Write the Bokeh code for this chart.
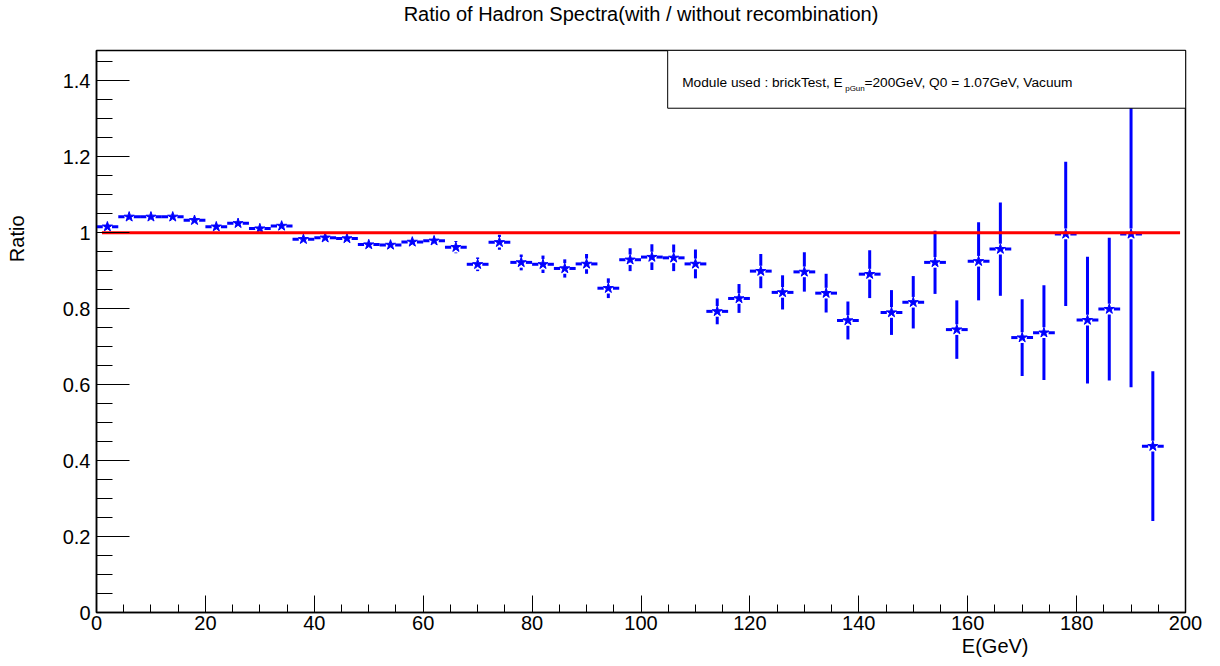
from bokeh.plotting import figure
from bokeh.models import (Range1d, SingleIntervalTicker, CustomJSTickFormatter, Label, Title)
from bokeh.embed import file_html
from bokeh.resources import INLINE

# ---- data ----
energy = [2, 6, 10, 14, 18, 22, 26, 30, 34, 38, 42, 46, 50, 54, 58, 62, 66, 70, 74, 78,
          82, 86, 90, 94, 98, 102, 106, 110, 114, 118, 122, 126, 130, 134, 138, 142, 146,
          150, 154, 158, 162, 166, 170, 174, 178, 182, 186, 190, 194]
bin_half_width = 2.0
ratio = [1.016, 1.042, 1.042, 1.042, 1.033, 1.016, 1.025, 1.011, 1.018, 0.983, 0.987,
         0.985, 0.969, 0.968, 0.976, 0.979, 0.962, 0.917, 0.975, 0.922, 0.917, 0.906,
         0.918, 0.854, 0.929, 0.936, 0.934, 0.918, 0.793, 0.827, 0.899, 0.843, 0.897,
         0.841, 0.769, 0.891, 0.790, 0.817, 0.922, 0.745, 0.925, 0.957, 0.724, 0.737,
         0.997, 0.770, 0.799, 0.997, 0.438]
ratio_err = [0.002, 0.003, 0.003, 0.004, 0.004, 0.005, 0.005, 0.006, 0.006, 0.007, 0.007,
             0.008, 0.008, 0.009, 0.014, 0.011, 0.016, 0.018, 0.020, 0.021, 0.023, 0.024,
             0.026, 0.026, 0.030, 0.034, 0.035, 0.038, 0.034, 0.038, 0.045, 0.045, 0.052,
             0.051, 0.050, 0.063, 0.059, 0.069, 0.083, 0.077, 0.103, 0.123, 0.101, 0.125,
             0.190, 0.167, 0.188, 0.404, 0.197]
ref_line_x = [1.0, 199.0]
ref_line_y = [1.0, 1.0]
y_ticks_major = 0.2
x_ticks_major = 20

title_text = "Ratio of Hadron Spectra(with / without recombination)"
x_title = "E(GeV)"
y_title = "Ratio"
legend_main = "Module used : brickTest, E"
legend_sub = "pGun"
legend_rest = "=200GeV, Q0 = 1.07GeV, Vacuum"

FONT = "Liberation Sans"
BLUE = "#0000ff"

p = figure(width=1212, height=658, output_backend="svg", toolbar_location=None,
           title=None, x_range=Range1d(0, 200), y_range=Range1d(0, 1.48),
           min_border_left=96, min_border_right=27, min_border_top=48, min_border_bottom=46)
p.background_fill_color = "white"
p.border_fill_color = "white"
p.outline_line_color = "black"
p.outline_line_width = 1.5
p.xgrid.visible = False
p.ygrid.visible = False

# axes
p.xaxis.ticker = SingleIntervalTicker(interval=x_ticks_major, num_minor_ticks=4)
p.yaxis.ticker = SingleIntervalTicker(interval=y_ticks_major, num_minor_ticks=4)
p.yaxis.formatter = CustomJSTickFormatter(code="return (Math.round(tick*10)/10).toString();")
for ax in (p.xaxis, p.yaxis):
    ax.axis_line_color = "black"
    ax.axis_line_width = 1.5
    ax.major_tick_out = 0
    ax.minor_tick_out = 0
    ax.major_tick_line_color = "black"
    ax.minor_tick_line_color = "black"
    ax.major_tick_line_width = 1
    ax.minor_tick_line_width = 1
    ax.major_label_text_font = FONT
    ax.major_label_text_font_size = "20px"
    ax.major_label_text_color = "black"
p.xaxis.major_tick_in = 17
p.xaxis.minor_tick_in = 8
p.yaxis.major_tick_in = 33
p.yaxis.minor_tick_in = 16
p.xaxis.major_label_standoff = 3
p.yaxis.major_label_standoff = 6

# error bars (with a gap around the marker)
gx = 0.85
gy = 0.014
hx0, hx1, hy = [], [], []
vx, vy0, vy1 = [], [], []
for xc, yc, e in zip(energy, ratio, ratio_err):
    hx0 += [xc - bin_half_width, xc + gx]
    hx1 += [xc - gx, xc + bin_half_width]
    hy += [yc, yc]
    if e > gy:
        vx += [xc, xc]
        vy0 += [yc + gy, yc - e]
        vy1 += [yc + e, yc - gy]
p.segment(x0=hx0, y0=hy, x1=hx1, y1=hy, line_color=BLUE, line_width=3)
p.segment(x0=vx, y0=vy0, x1=vx, y1=vy1, line_color=BLUE, line_width=3)
p.scatter(x=energy, y=ratio, marker="star", size=10.5, fill_color=BLUE, line_color=BLUE)

# reference line
p.line(x=ref_line_x, y=ref_line_y, line_color="#ff0000", line_width=3)

# legend box (pave)
p.quad(left=[104.9], right=[200], bottom=[1.328], top=[1.48],
       fill_color="white", line_color="black", line_width=1)
p.add_layout(Label(x=107.57, y=1.3963, text=legend_main, text_font=FONT,
                   text_font_size="13.7px", text_color="black", text_baseline="alphabetic"))
p.add_layout(Label(x=137.5, y=1.3787, text=legend_sub, text_font=FONT,
                   text_font_size="8px", text_color="black", text_baseline="alphabetic"))
p.add_layout(Label(x=141.05, y=1.3963, text=legend_rest, text_font=FONT,
                   text_font_size="13.7px", text_color="black", text_baseline="alphabetic"))

# titles (blank spacer titles push the real ones outward)
p.add_layout(Title(text=" ", text_font_size="1px", standoff=23), "above")
p.add_layout(Title(text=title_text, align="center", text_font=FONT, text_font_size="20px",
                   text_font_style="normal", text_color="black", standoff=0), "above")
p.add_layout(Title(text=x_title, align="right", offset=157, text_font=FONT,
                   text_font_size="20px", text_font_style="normal", text_color="black",
                   standoff=0), "below")
p.add_layout(Title(text=" ", text_font_size="1px", standoff=29), "left")
p.add_layout(Title(text=y_title, align="right", offset=165, text_font=FONT,
                   text_font_size="20px", text_font_style="normal", text_color="black",
                   standoff=0), "left")

open("out.html", "w").write(file_html(p, INLINE))
